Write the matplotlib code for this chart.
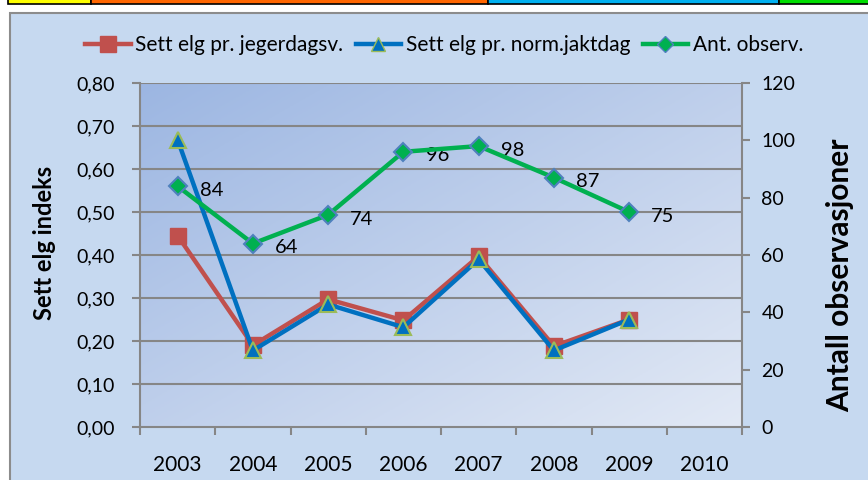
import matplotlib.pyplot as plt
import numpy as np
from matplotlib.patches import Rectangle
from matplotlib.lines import Line2D

# data
years = ["2003", "2004", "2005", "2006", "2007", "2008", "2009", "2010"]
jegerdagsv = [0.445, 0.19, 0.297, 0.248, 0.397, 0.188, 0.25]
normjaktdag = [0.668, 0.178, 0.285, 0.232, 0.39, 0.178, 0.25]
ant_obs = [84, 64, 74, 96, 98, 87, 75]
left_ticks = [0.0, 0.1, 0.2, 0.3, 0.4, 0.5, 0.6, 0.7, 0.8]
right_ticks = [0, 20, 40, 60, 80, 100, 120]

plt.rcParams['font.family'] = ['Lato', 'DejaVu Sans']

W, H = 868, 480
fig = plt.figure(figsize=(W / 100, H / 100), dpi=100)
fig.patch.set_facecolor("white")

def px(x0, y0, w, h):
    # pixel box (top-left origin) -> figure fraction
    return (x0 / W, 1 - (y0 + h) / H, w / W, h / H)

# coloured strip at the top
for x0, x1, c in [(8, 91, "#FFFF00"), (91, 488, "#FF6600"), (488, 779, "#00B0F0"), (779, 880, "#00DD00")]:
    r = px(x0, -2, x1 - x0, 6)
    fig.patches.append(Rectangle(r[:2], r[2], r[3], transform=fig.transFigure,
                                 facecolor=c, edgecolor="black", lw=1.2, zorder=-5))

# chart area
r = px(10, 13, 900, 500)
fig.patches.append(Rectangle(r[:2], r[2], r[3], transform=fig.transFigure,
                             facecolor="#C6D9F0", edgecolor="#8C8C8C", lw=1.5, zorder=-5))

rect = px(140, 83, 602, 344)

# gradient plot area
bg = fig.add_axes(rect, zorder=0)
gx, gy = np.meshgrid(np.linspace(0, 1, 200), np.linspace(0, 1, 120))
t = (gx + gy) / 2
c0 = np.array([0x9C, 0xB6, 0xE2]) / 255
c1 = np.array([0xE2, 0xE9, 0xF5]) / 255
img = c0[None, None, :] * (1 - t[..., None]) + c1[None, None, :] * t[..., None]
bg.imshow(img, aspect="auto", extent=[0, 1, 0, 1], origin="upper")
bg.axis("off")

ax = fig.add_axes(rect, zorder=1)
ax.set_facecolor("none")
x = np.arange(len(years))
ax.set_xlim(-0.5, len(years) - 0.5)
ax.set_ylim(0, 0.8)
for v in left_ticks[1:]:
    ax.axhline(v, color="#868686", lw=1.5, zorder=1)

ax.plot(x[:len(jegerdagsv)], jegerdagsv, color="#C0504D", lw=3.2, marker="s", ms=11,
        mfc="#C0504D", mec="#C0504D", zorder=3)
ax.plot(x[:len(normjaktdag)], normjaktdag, color="#0070C0", lw=3.2, marker="^", ms=12,
        mfc="#0070C0", mec="#9BBB59", mew=1.5, zorder=4)

ax.set_yticks(left_ticks)
ax.yaxis.set_major_formatter(plt.FuncFormatter(lambda v, p: ("%.2f" % v).replace(".", ",")))
ax.set_xticks(np.arange(len(years) + 1) - 0.5)
ax.set_xticklabels([])
ax.set_xticks(x, minor=True)
ax.set_xticklabels(years, minor=True, fontsize=15)
ax.tick_params(axis="x", which="minor", length=0, pad=20)
ax.tick_params(axis="x", which="major", length=6, color="#868686", width=1.5)
ax.tick_params(axis="y", length=6, color="#868686", width=1.5, labelsize=14, pad=12)
for s in ["left", "bottom", "right"]:
    ax.spines[s].set_color("#868686")
    ax.spines[s].set_linewidth(1.5)
ax.spines["top"].set_visible(False)
ax.set_ylabel("Sett elg indeks", fontsize=17, fontweight="bold")
ax.yaxis.set_label_coords((56 - 140) / 602, 0.535)

ax2 = ax.twinx()
ax2.set_zorder(2)
ax2.patch.set_visible(False)
ax2.set_ylim(0, 120)
ax2.set_yticks(right_ticks)
ax2.tick_params(axis="y", length=6, color="#868686", width=1.5, labelsize=14, pad=8)
for s in ax2.spines.values():
    s.set_visible(False)
ax2.plot(x[:len(ant_obs)], ant_obs, color="#00B050", lw=3.2, marker="D", ms=9,
         mfc="#00B050", mec="#4F81BD", mew=1.5, zorder=5)
for xi, v in zip(x, ant_obs):
    ax2.annotate(str(v), (xi, v), xytext=(16, -3), textcoords="offset points",
                 fontsize=14.5, va="center", ha="left")
ax2.set_ylabel("Antall observasjoner", fontsize=21.5, fontweight="bold")
ax2.yaxis.set_label_coords((826 - 140) / 602, 0.44)

handles = [
    Line2D([], [], color="#C0504D", lw=3.2, marker="s", ms=11, mfc="#C0504D", mec="#C0504D"),
    Line2D([], [], color="#0070C0", lw=3.2, marker="^", ms=10, mfc="#0070C0", mec="#9BBB59"),
    Line2D([], [], color="#00B050", lw=3.2, marker="D", ms=8, mfc="#00B050", mec="#4F81BD"),
]
fig.legend(handles, ["Sett elg pr. jegerdagsv.", "Sett elg pr. norm.jaktdag", "Ant. observ."],
           loc="center", bbox_to_anchor=(444 / W, 1 - 45 / H), ncol=3, frameon=False,
           fontsize=15, handlelength=2.2, handletextpad=0.2, columnspacing=0.6)

fig.savefig("out.png", dpi=100)
